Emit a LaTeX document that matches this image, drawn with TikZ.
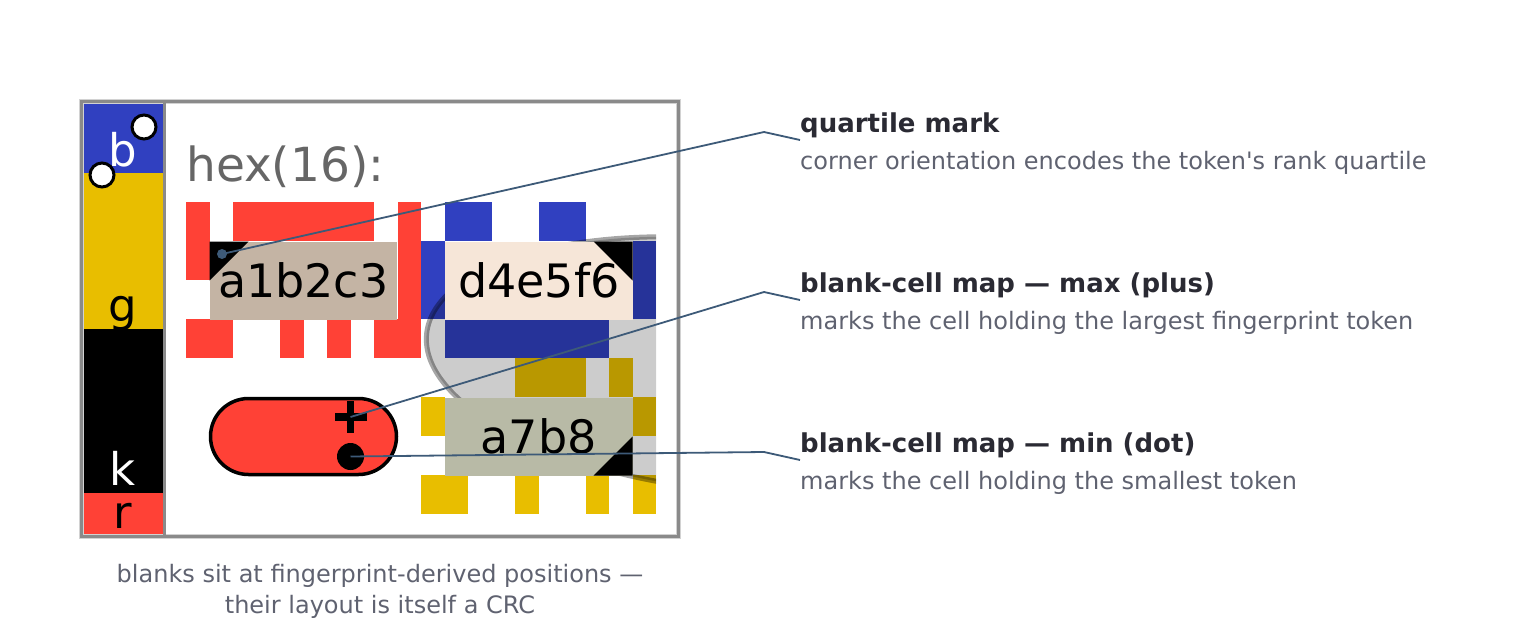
\documentclass[tikz,border=0pt]{standalone}
\usepackage{fontspec}
\setmainfont{DejaVu Sans}
\usetikzlibrary{positioning}
\definecolor{cred}{HTML}{FF4136}
\definecolor{cblue}{HTML}{3040C0}
\definecolor{cgold}{HTML}{E8BE00}
\definecolor{tokA}{HTML}{C4B4A4}
\definecolor{tokB}{HTML}{F6E6D8}
\definecolor{tokC}{HTML}{B8BAA6}
\definecolor{leader}{HTML}{3D5A78}
\definecolor{headink}{HTML}{2A2A33}
\definecolor{noteink}{HTML}{5F6270}
\definecolor{framegray}{HTML}{8A8A8A}
\newcommand{\pxsize}[1]{\fontsize{#1}{#1}\selectfont}

\begin{document}
\begin{tikzpicture}[x=1pt,y=-1pt,
  tok/.style={inner sep=0pt,outer sep=0pt,minimum width=187.5pt,minimum height=78pt,font=\pxsize{46}},
  ring/.style={circle,draw,line width=3pt,fill=white,minimum size=24pt,inner sep=0pt},
  barletter/.style={anchor=base,inner sep=0pt,font=\pxsize{45}},
  head/.style={anchor=base west,inner sep=0pt,text=headink,font=\pxsize{26}\bfseries},
  note/.style={anchor=base west,inner sep=0pt,text=noteink,font=\pxsize{24}},
  lead/.style={leader,line width=1.8pt}]
\useasboundingbox (0,0) rectangle (1520,640);
%%First the colour bar on the left
\fill[cblue] (82.75,102) rectangle (163,173);
\fill[cgold] (82.75,173) rectangle (163,329);
\fill[black] (82.75,329) rectangle (163,493);
\fill[cred] (82.75,493) rectangle (163,536);
\node[barletter,text=white] (lb) at (122.5,166) {b};
\node[barletter] (lg) at (122.5,321) {g};
\node[barletter,text=white] (lk) at (122.5,485) {k};
\node[barletter] (lr) at (122.5,528) {r};
%%Heading of the panel
\node[anchor=base west,inner sep=0pt,text=black!60,font=\pxsize{47}] (hex) at (186,181) {hex(16):};
%%The grid cells
\foreach \c/\r in {0/0,0/1,2/0,3/0,4/0,5/0,6/0,7/0,9/0,9/1,9/2,9/3,0/3,1/3,4/3,6/3,8/3}
  \fill[cred] ({186+23.5*\c},{202+39*\r}) rectangle ++(23.5,39);
\foreach \c/\r in {11/0,12/0,15/0,16/0,10/1,10/2,19/1,19/2,11/3,12/3,13/3,14/3,15/3,16/3,17/3}
  \fill[cblue] ({186+23.5*\c},{202+39*\r}) rectangle ++(23.5,39);
\foreach \c/\r in {14/4,15/4,16/4,18/4,10/5,19/5,10/7,11/7,14/7,17/7,19/7}
  \fill[cgold] ({186+23.5*\c},{202+39*\r}) rectangle ++(23.5,39);
%%The grey lasso
\begin{scope}
\clip (186,202) rectangle (656,514);
\draw[fill=black,fill opacity=.2,draw=black,draw opacity=.35,line width=5pt,rotate around={-6:(725,365)}]
  (725,365) ellipse [x radius=300, y radius=125];
\end{scope}
%%Token boxes and their quartile corners
\node[tok,fill=tokA] (ta) at (303.25,280.5) {a1b2c3};
\node[tok,fill=tokB] (tb) at (538.75,280.5) {d4e5f6};
\node[tok,fill=tokC] (tc) at (538.75,436.5) {a7b8};
\fill (ta.north west) -- ++(39,0) -- ++(-39,39) -- cycle;
\fill (tb.north east) -- ++(-39,0) -- ++(39,39) -- cycle;
\fill (tc.south east) -- ++(-39,0) -- ++(39,-39) -- cycle;
\node[circle,fill=leader,inner sep=0pt,minimum size=10pt] (qdot) at (222,254) {};
%%The blank-cell map
\node[draw,line width=3.5pt,fill=cred,rounded corners=38pt,minimum width=186pt,minimum height=76pt] (pill) at (303.5,436.5) {};
\coordinate (maxmark) at (350.5,417);
\fill (maxmark) ++(-16,-3.75) rectangle ++(32,7.5);
\fill (maxmark) ++(-3.75,-16) rectangle ++(7.5,32);
\node[circle,fill=black,inner sep=0pt,minimum size=27pt] (mindot) at (350.5,456.5) {};
%%Frame
\draw[gray!35,line width=4.5pt] (81.5,101.5) rectangle (678.5,536.5);
\draw[framegray,line width=2.5pt] (81.5,101.5) rectangle (678.5,536.5);
\draw[framegray,line width=3pt] (164,102) -- (164,536);
\node[ring] (ring1) at (144,127) {};
\node[ring] (ring2) at (102,175) {};
%%Notes on the right
\node[head] (h1) at (800,132) {quartile mark};
\node[note] (n1) at (800,169) {corner orientation encodes the token\textquotesingle s rank quartile};
\node[head] (h2) at (800,292) {blank-cell map — max (plus)};
\node[note] (n2) at (800,329) {marks the cell holding the largest fingerprint token};
\node[head] (h3) at (800,452) {blank-cell map — min (dot)};
\node[note] (n3) at (800,489) {marks the cell holding the smallest token};
\coordinate (k1) at (764,132);
\coordinate (e1) at (800,140);
\coordinate (k2) at (764,292);
\coordinate (e2) at (800,300);
\coordinate (k3) at (764,452);
\coordinate (e3) at (800,460);
%%Leader lines
\draw[lead] (qdot.center) -- (k1) -- (e1);
\draw[lead] (maxmark) -- (k2) -- (e2);
\draw[lead] (mindot.center) -- (k3) -- (e3);
%%Caption
\node[anchor=base,inner sep=0pt,text=noteink,font=\pxsize{24}] (cap1) at (380,582) {blanks sit at fingerprint-derived positions —};
\node[anchor=base,inner sep=0pt,text=noteink,font=\pxsize{24}] (cap2) at (380,613) {their layout is itself a CRC};
\end{tikzpicture}
\end{document}
